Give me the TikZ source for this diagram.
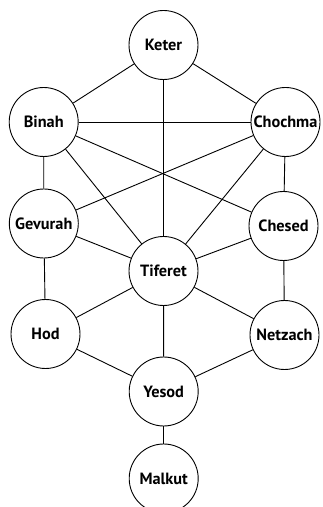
\documentclass[tikz,border=0pt]{standalone}
\usepackage{fontspec}
\setmainfont{PT Sans}
\begin{document}
\begin{tikzpicture}[x=1pt,y=1pt,
  sef/.style={circle,draw=black,line width=0.9pt,fill=white,minimum size=69pt,inner sep=0pt,font=\fontsize{16.3}{18}\selectfont\bfseries},
  link/.style={draw=black,line width=0.9pt}]
\useasboundingbox (0,0) rectangle (322,507);
\begin{scope}
\clip (0,0) rectangle (322,507);
\node[sef] (keter) at (163.5,462) {Keter};
\node[sef] (binah) at (43.7,385) {Binah};
\node[sef] (chochma) at (285.5,385) {Chochma};
\node[sef] (gevurah) at (43.8,283.5) {Gevurah};
\node[sef] (chesed) at (283.5,281) {Chesed};
\node[sef] (tiferet) at (163.5,236) {Tiferet};
\node[sef] (hod) at (45.5,173) {Hod};
\node[sef] (netzach) at (284.5,172) {Netzach};
\node[sef] (yesod) at (163.7,115.5) {Yesod};
\node[sef] (malkut) at (163.7,28.5) {Malkut};
\foreach \a/\b in {keter/binah,keter/chochma,keter/tiferet,
  binah/chochma,binah/gevurah,binah/tiferet,binah/chesed,
  chochma/chesed,chochma/tiferet,chochma/gevurah,
  gevurah/tiferet,gevurah/hod,chesed/tiferet,chesed/netzach,
  tiferet/hod,tiferet/netzach,tiferet/yesod,
  hod/yesod,netzach/yesod,yesod/malkut}
  \draw[link] (\a) -- (\b);
\end{scope}
\end{tikzpicture}
\end{document}
